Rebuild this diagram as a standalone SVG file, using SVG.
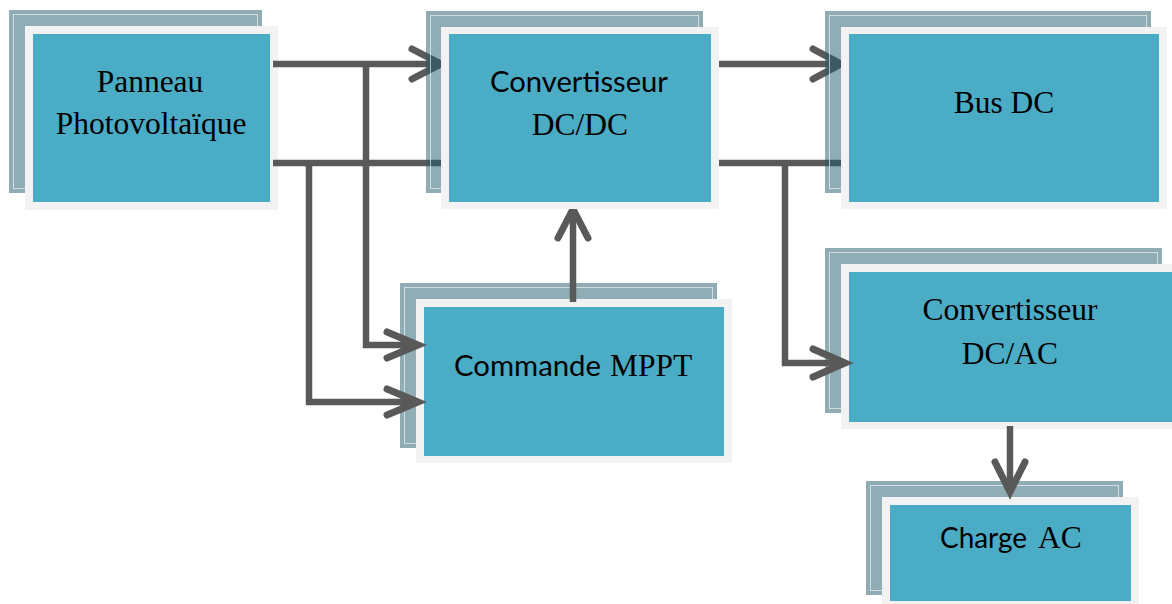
<svg xmlns="http://www.w3.org/2000/svg" width="1172" height="604" viewBox="0 0 1172 604">
<style>
.back{fill:#21596b;fill-opacity:0.5}
.inner{fill:none;stroke:#ffffff;stroke-opacity:0.6;stroke-width:1}
.frame{fill:#f2f2f2}
.face{fill:#4bacc6}
.serif{font-family:"Liberation Serif","Times New Roman",serif;font-size:31.5px;fill:#000}
.sans{font-family:Lato,"Noto Sans",sans-serif;font-size:29px;fill:#000}
.line{fill:none;stroke:#595959;stroke-width:6.5;stroke-linejoin:miter}
.head{fill:none;stroke:#595959;stroke-width:7;stroke-linecap:round;stroke-linejoin:miter}
</style>
<rect width="1172" height="604" fill="#ffffff"/>
<g id="panneau">
<rect class="back" x="9" y="10" width="253" height="183"/>
<rect class="inner" x="13.5" y="14.5" width="244" height="174"/>
<rect class="frame" x="25" y="26" width="253" height="184"/>
<rect class="face" x="33" y="34" width="237" height="168"/>
<text class="serif" text-anchor="middle" x="150" y="92">Panneau</text>
<text class="serif" text-anchor="middle" x="151" y="134">Photovoltaïque</text>
</g>
<g id="commande-mppt">
<rect class="back" x="400" y="283" width="317" height="165"/>
<rect class="inner" x="404.5" y="287.5" width="308" height="156"/>
<rect class="frame" x="416" y="299" width="316" height="164"/>
<rect class="face" x="424" y="307" width="300" height="149"/>
<text y="376"><tspan class="sans" x="454" textLength="147" lengthAdjust="spacingAndGlyphs">Commande</tspan><tspan class="serif" x="610">MPPT</tspan></text>
</g>
<g id="convertisseur-dcac">
<rect class="back" x="825" y="248" width="337" height="165"/>
<rect class="inner" x="829.5" y="252.5" width="328" height="156"/>
<rect class="frame" x="841" y="264" width="340" height="165"/>
<rect class="face" x="849" y="272" width="323" height="150"/>
<text class="serif" text-anchor="middle" x="1010" y="320">Convertisseur</text>
<text class="serif" text-anchor="middle" x="1010" y="364">DC/AC</text>
</g>
<g id="charge-ac">
<rect class="back" x="866" y="481" width="257" height="114"/>
<rect class="inner" x="870.5" y="485.5" width="248" height="105"/>
<rect class="frame" x="882" y="497" width="257" height="115"/>
<rect class="face" x="890" y="505" width="241" height="96"/>
<text y="548"><tspan class="sans" x="940" textLength="87" lengthAdjust="spacingAndGlyphs">Charge</tspan><tspan class="serif" x="1038">AC</tspan></text>
</g>
<g id="connectors">
<path class="line" d="M273 64 H438"/>
<path class="head" d="M412 49 L441 64 L412 79"/>
<path class="line" d="M273 163 H441"/>
<path class="line" d="M366 64 V345 H415"/>
<path class="head" d="M387 332 L418 345 L387 358"/>
<path class="line" d="M309 163 V402 H415"/>
<path class="head" d="M387 389 L418 402 L387 415"/>
<path class="line" d="M715 64 H838"/>
<path class="head" d="M813 49 L841 64 L813 79"/>
<path class="line" d="M715 163 H841"/>
<path class="line" d="M785 163 V363 H842"/>
<path class="head" d="M813 349 L845 363 L813 377"/>
<path class="line" d="M573 302 V214"/>
<path class="head" d="M558 238 L573 209 L588 238"/>
<path class="line" d="M1010 426 V488"/>
<path class="head" d="M995 462 L1010 492 L1025 462"/>
</g>
<g id="convertisseur-dcdc">
<rect class="back" x="426" y="11" width="277" height="182"/>
<rect class="inner" x="430.5" y="15.5" width="268" height="173"/>
<rect class="frame" x="441" y="27" width="278" height="182"/>
<rect class="face" x="449" y="34" width="262" height="168"/>
<text class="sans" x="490" y="92" textLength="178" lengthAdjust="spacingAndGlyphs">Convertisseur</text>
<text class="serif" text-anchor="middle" x="580" y="135">DC/DC</text>
</g>
<g id="bus-dc">
<rect class="back" x="825" y="11" width="326" height="182"/>
<rect class="inner" x="829.5" y="15.5" width="317" height="173"/>
<rect class="frame" x="841" y="27" width="326" height="182"/>
<rect class="face" x="849" y="34" width="310" height="168"/>
<text class="serif" text-anchor="middle" x="1004" y="113">Bus DC</text>
</g>
</svg>
